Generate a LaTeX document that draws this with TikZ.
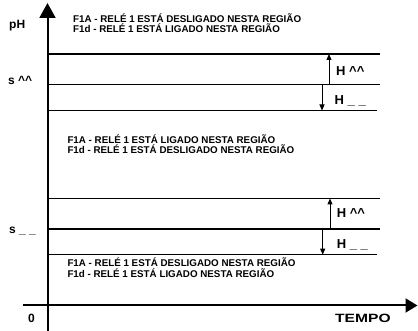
\documentclass[tikz,border=0pt]{standalone}
\usepackage{fontspec}
\setmainfont{Liberation Sans}
\usetikzlibrary{arrows.meta}
\begin{document}
\begin{tikzpicture}[x=1pt,y=-1pt,
  axis/.style={line width=2pt},
  level/.style={line width=1.6pt},
  hyst/.style={line width=1pt,-{Triangle[width=5pt,length=6pt]}},
  note/.style={font=\fontsize{9.8}{10.8}\bfseries\selectfont, inner sep=0, anchor=base west, align=left},
  lab/.style={font=\fontsize{12}{13}\bfseries\selectfont, inner sep=0, anchor=base west},
  hlab/.style={font=\fontsize{13}{14}\bfseries\selectfont, inner sep=0, anchor=base west}
]
\useasboundingbox (0,0) rectangle (418,331);
% axes
\coordinate (yb) at (47.5,331);
\coordinate (yt) at (47.5,3);
\coordinate (xl) at (22.5,305.5);
\coordinate (xr) at (417.5,305.5);
\draw[axis,-{Triangle[width=16pt,length=15pt]}] (yb) -- (yt);
\draw[axis,-{Triangle[width=14pt,length=12pt]}] (xl) -- (xr);
% level lines
\coordinate (l1a) at (47.5,54);    \coordinate (l1b) at (380,54);
\coordinate (l2a) at (47.5,84.5);  \coordinate (l2b) at (380,84.5);
\coordinate (l3a) at (47.5,110.5); \coordinate (l3b) at (377,110.5);
\coordinate (l4a) at (47.5,198.5); \coordinate (l4b) at (380,198.5);
\coordinate (l5a) at (47.5,229.3); \coordinate (l5b) at (380,229.3);
\coordinate (l6a) at (47.5,254.7); \coordinate (l6b) at (377,254.7);
\draw[level] (l1a) -- (l1b);
\draw[level] (l2a) -- (l2b);
\draw[level] (l3a) -- (l3b);
\draw[level] (l4a) -- (l4b);
\draw[level] (l5a) -- (l5b);
\draw[level] (l6a) -- (l6b);
% hysteresis arrows
\coordinate (h1s) at (329,84.5);  \coordinate (h1e) at (329,54);
\coordinate (h2s) at (322,84.5);  \coordinate (h2e) at (322,110.5);
\coordinate (h3s) at (330,229.3); \coordinate (h3e) at (330,198.5);
\coordinate (h4s) at (322.7,229.3); \coordinate (h4e) at (322.7,254.7);
\draw[hyst] (h1s) -- (h1e);
\draw[hyst] (h2s) -- (h2e);
\draw[hyst] (h3s) -- (h3e);
\draw[hyst] (h4s) -- (h4e);
% labels
\node[lab] (ph) at (9,28.3) {pH};
\node[lab] (ssup) at (8,85) {s \textasciicircum\textasciicircum};
\node[lab] (ssub) at (9,233.3) {s \textunderscore\ \textunderscore};
\node[lab] (zero) at (28,323) {0};
\node[lab] (tempo) at (335,323) {\scalebox{1.3}[1]{TEMPO}};
\node[hlab] (hu1) at (336,76) {H \textasciicircum\textasciicircum};
\node[hlab] (hd1) at (334.5,105) {H \textunderscore\ \textunderscore};
\node[hlab] (hu2) at (336.7,218) {H \textasciicircum\textasciicircum};
\node[hlab] (hd2) at (336.7,249) {H \textunderscore\ \textunderscore};
% notes
\node[note] (n1) at (73,33) {F1A - RELÉ 1 ESTÁ DESLIGADO NESTA REGIÃO\\F1d - RELÉ 1 ESTÁ LIGADO NESTA REGIÃO};
\node[note] (n2) at (67.3,154) {F1A - RELÉ 1 ESTÁ LIGADO NESTA REGIÃO\\F1d - RELÉ 1 ESTÁ DESLIGADO NESTA REGIÃO};
\node[note] (n3) at (67.3,277.5) {F1A - RELÉ 1 ESTÁ DESLIGADO NESTA REGIÃO\\F1d - RELÉ 1 ESTÁ LIGADO NESTA REGIÃO};
\end{tikzpicture}
\end{document}
